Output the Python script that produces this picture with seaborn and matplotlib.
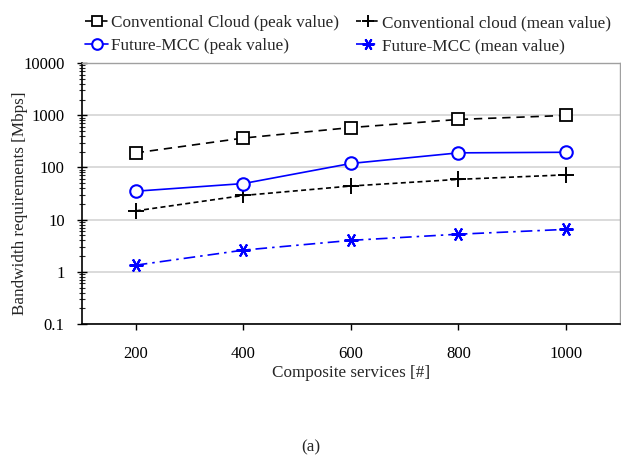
import matplotlib
matplotlib.use("Agg")
import matplotlib.pyplot as plt
import seaborn as sns
import numpy as np

# Number of composite services
services = [200, 400, 600, 800, 1000]

# Bandwidth requirements [Mbps]
conv_peak = [190, 365, 580, 830, 990]
conv_mean = [14.7, 29, 44, 59, 72]
mcc_peak = [35, 49, 119, 190, 195]
mcc_mean = [1.34, 2.6, 4.0, 5.25, 6.5]

labels = [
    "Conventional Cloud (peak value)",
    "Conventional cloud (mean value)",
    "Future-MCC (peak value)",
    "Future-MCC (mean value)",
]

sns.set_style("white")
plt.rcParams["font.family"] = ["Liberation Serif", "DejaVu Serif"]

fig = plt.figure(figsize=(6.21, 4.58), dpi=100)
ax = fig.add_axes([0.132, 0.2926, 0.866, 0.5698])

lw = 1.2
series = [
    (conv_peak, dict(color="black", marker="s", markersize=9, dashes=(5, 3.5),
                     markerfacecolor="white", markeredgecolor="black", markeredgewidth=1.3)),
    (conv_mean, dict(color="black", marker="+", markersize=11, dashes=(3, 2),
                     markeredgecolor="black", markeredgewidth=1.4)),
    (mcc_peak, dict(color="#0000ff", marker="o", markersize=9, linestyle="-",
                    markerfacecolor="white", markeredgecolor="#0000ff", markeredgewidth=1.5)),
    (mcc_mean, dict(color="#0000ff", marker=(6, 2, 90), markersize=10,
                    dashes=(7, 3, 1.5, 3), markeredgewidth=1.5, markeredgecolor="#0000ff")),
]

handles = []
for (vals, kw), lab in zip(series, labels):
    sns.lineplot(x=services, y=vals, ax=ax, linewidth=lw, label=lab, legend=False, **kw)
    handles.append(ax.lines[-1])

ax.set_yscale("log")
ax.set_ylim(0.1, 10000)
ax.set_xlim(100, 1100)
ax.set_xticks(services)
ax.set_yticks([0.1, 1, 10, 100, 1000, 10000])
ax.set_yticklabels(["0.1", "1", "10", "100", "1000", "10000"])
ax.yaxis.set_minor_locator(matplotlib.ticker.LogLocator(base=10, subs=np.arange(2, 10)))
ax.yaxis.set_minor_formatter(matplotlib.ticker.NullFormatter())

ax.grid(axis="y", which="major", color="#d4d4d4", linewidth=1.2)
ax.set_axisbelow(True)

for side in ["left", "bottom"]:
    ax.spines[side].set_color("black")
    ax.spines[side].set_linewidth(1.2)
for side in ["top", "right"]:
    ax.spines[side].set_color("#a0a0a0")
    ax.spines[side].set_linewidth(1.0)

ax.tick_params(axis="both", which="major", labelsize=12, colors="black", pad=6)
ax.tick_params(axis="y", which="major", direction="inout", length=7, width=1.0, left=True, pad=9)
ax.tick_params(axis="y", which="minor", direction="inout", length=4, width=0.8, left=True)
ax.tick_params(axis="x", which="major", direction="out", length=4, width=1.0, bottom=True, pad=12)

ax.set_xlabel("Composite services [#]", fontsize=12.3, labelpad=2)
ax.set_ylabel("Bandwidth requirements [Mbps]", fontsize=12.3)
ax.yaxis.set_label_coords(-0.1, 0.464)

# legend filled column-wise: conventional cloud on the first row, Future-MCC on the second
order = [0, 2, 1, 3]
fig.legend([handles[i] for i in order], [labels[i] for i in order],
           loc="upper left", bbox_to_anchor=(0.137, 0.967), ncol=2,
           frameon=False, fontsize=12.3, handlelength=1.35, handletextpad=0.18,
           columnspacing=1.0, labelspacing=0.42, borderpad=0.0, borderaxespad=0.0,
           markerscale=0.85)

fig.text(0.5, 0.005, "(a)", ha="center", va="bottom", fontsize=12.3)

fig.savefig("out.png", dpi=100)
